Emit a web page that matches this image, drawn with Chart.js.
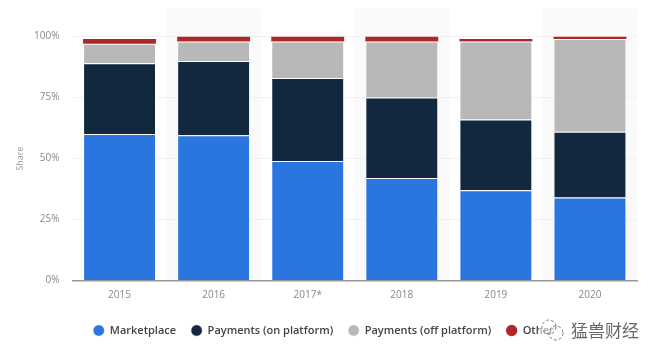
<!DOCTYPE html>
<html>
<head>
<meta charset="utf-8">
<style>
    html, body { margin: 0; padding: 0; background: #fff; }
    #wrap { position: relative; width: 660px; height: 359px; overflow: hidden; }
    #mark { position: absolute; left: 539px; top: 317px; width: 100px; height: 26px; background: rgba(255,255,255,0.55);
        font: 17px "Noto Sans CJK SC", sans-serif; color: #666; line-height: 26px; text-align: right; }
    #mark svg { position: absolute; left: 1px; top: 1px; }
</style>
<script src="https://cdn.jsdelivr.net/npm/chart.js@4"></script>
</head>
<body>
<div id="wrap">
    <canvas id="share-chart" width="660" height="359"></canvas>
    <div id="mark">
        <svg width="26" height="24" viewBox="0 0 26 24" fill="none" stroke="#777" stroke-width="1">
            <circle cx="9" cy="9" r="7" stroke-dasharray="3 2"></circle>
            <circle cx="16" cy="15" r="7" stroke-dasharray="3 2"></circle>
        </svg>
        猛兽财经
    </div>
</div>
<script>
const years = ["2015", "2016", "2017*", "2018", "2019", "2020"];
const marketplace = [60, 59.5, 49, 42, 37, 34];
const paymentsOn = [29, 30.5, 34, 33, 29, 27];
const paymentsOff = [8, 8, 15, 23, 32, 38];
const other = [2, 2, 2, 2, 1, 1];
const yTicks = [0, 25, 50, 75, 100];

// light bands behind every second year
const bands = {
    id: 'bands',
    beforeDraw(chart) {
        const x = chart.scales.x, area = chart.chartArea, ctx = chart.ctx;
        const w = x.getPixelForValue(1) - x.getPixelForValue(0);
        ctx.save();
        ctx.fillStyle = '#fafafa';
        years.forEach(function(y, i) {
            if (i % 2 === 1) {
                ctx.fillRect(x.getPixelForValue(i) - w / 2, area.top - 28, w, area.height + 28);
            }
        });
        ctx.restore();
    }
};

function makeSet(label, data, color, border) {
    return {
        label: label,
        data: data,
        backgroundColor: color,
        borderColor: 'rgba(255,255,255,0.55)',
        borderWidth: border,
        categoryPercentage: 1,
        barPercentage: 0.775
    };
}

new Chart(document.getElementById("share-chart"), {
    type: 'bar',
    plugins: [bands],
    data: {
        labels: years,
        datasets: [
            makeSet("Marketplace", marketplace, "#2b76de", 1),
            makeSet("Payments (on platform)", paymentsOn, "#11283f", 1),
            makeSet("Payments (off platform)", paymentsOff, "#b9b8b9", 1),
            makeSet("Other", other, "#ac2a26", 0)
        ]
    },
    options: {
        responsive: false,
        animation: false,
        layout: { padding: { left: 10, right: 23, top: 36.5, bottom: 13 } },
        plugins: {
            tooltip: { enabled: false },
            legend: {
                position: 'bottom',
                labels: {
                    usePointStyle: true,
                    pointStyle: 'circle',
                    boxHeight: 8,
                    padding: 15,
                    color: '#444',
                    font: { family: '"Open Sans"', size: 11, weight: '600' }
                }
            }
        },
        scales: {
            x: {
                stacked: true,
                grid: { display: false },
                border: { color: '#999', width: 1.5, z: 1 },
                ticks: { color: '#888', padding: 1, font: { family: '"Open Sans"', size: 10 } },
                afterFit(scale) { scale.height = 29.5; }
            },
            y: {
                stacked: true,
                min: 0,
                max: 100,
                afterBuildTicks(axis) { axis.ticks = yTicks.map(function(v) { return { value: v }; }); },
                grid: { color: '#f1f1f1', drawTicks: false },
                border: { display: false },
                title: { display: true, text: 'Share', color: '#999', padding: { top: 5, bottom: 0 }, font: { family: '"Open Sans"', size: 9 } },
                ticks: {
                    color: '#888',
                    padding: 13,
                    font: { family: '"Open Sans"', size: 10 },
                    callback: function(v) { return v + '%'; }
                },
                afterFit(scale) { scale.width = 62.5; }
            }
        }
    }
});
</script>
</body>
</html>
